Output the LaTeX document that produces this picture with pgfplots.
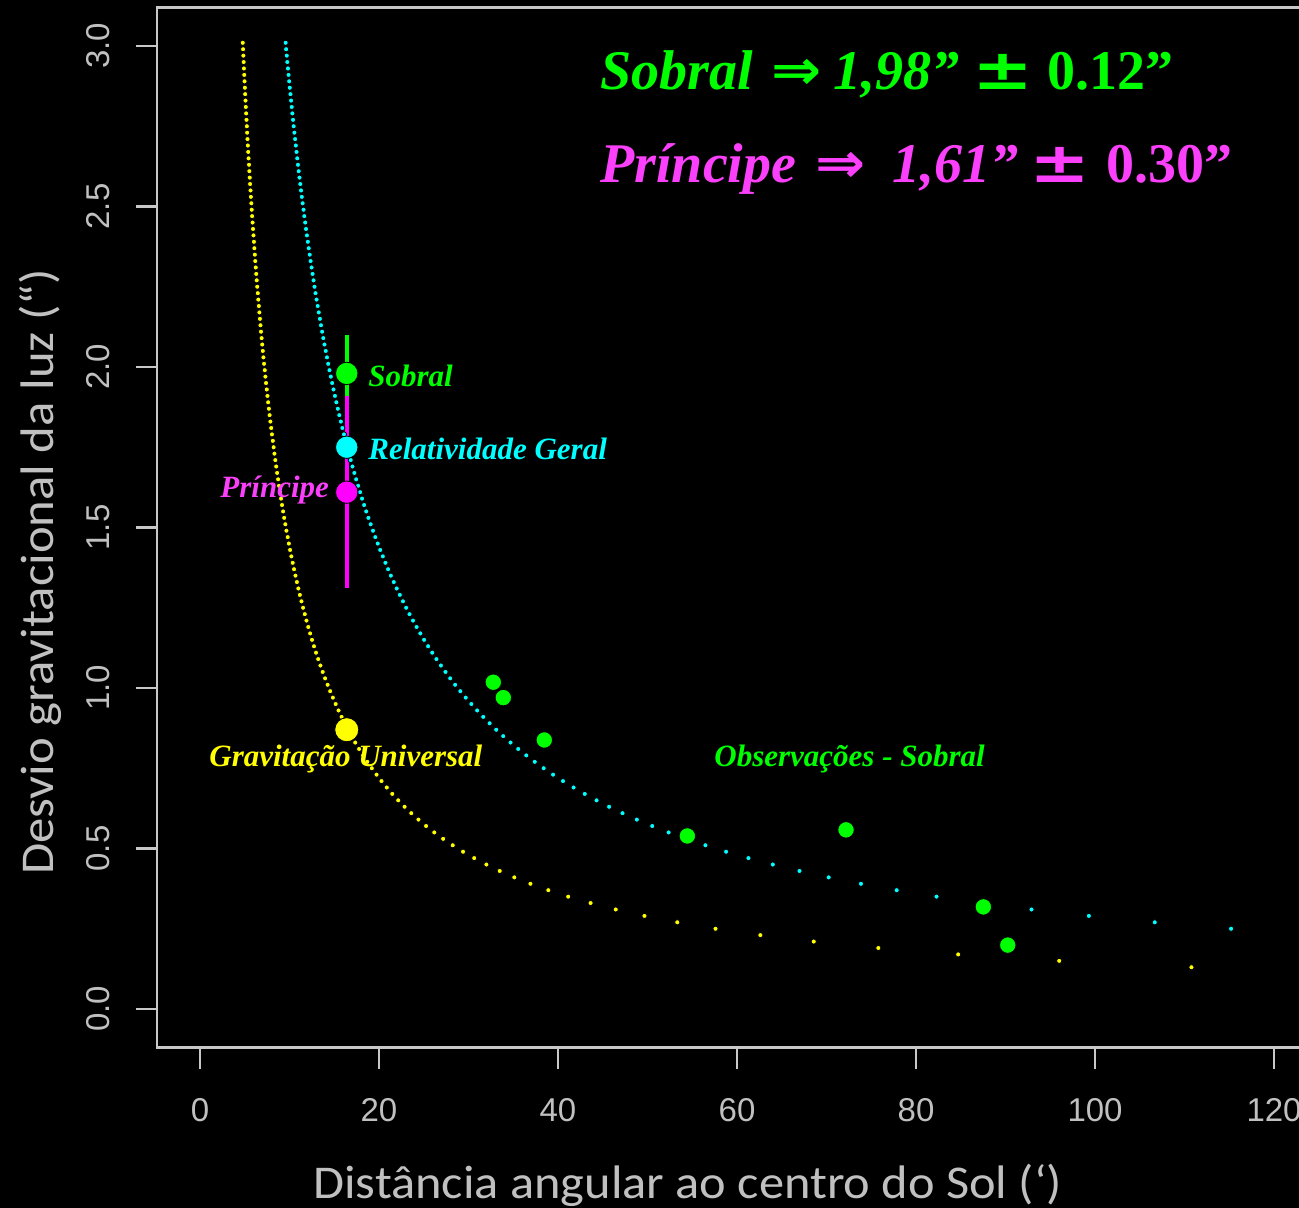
\documentclass[border=0pt]{standalone}
\usepackage{fontspec}
\setmainfont{Liberation Sans}
\newfontfamily\carlito{Carlito}
\newfontfamily\tnr{Liberation Serif}
\newfontfamily\djv{DejaVu Sans}
\usepackage{pgfplots}
\usepackage{pgfplotstable}
\pgfplotsset{compat=1.18}
\definecolor{axgray}{RGB}{200,200,200}
\definecolor{labgray}{RGB}{192,192,192}
\definecolor{cgreen}{RGB}{0,255,0}
\definecolor{ccyan}{RGB}{0,255,255}
\definecolor{cyellow}{RGB}{255,255,0}
\definecolor{cmag}{RGB}{255,0,255}
\definecolor{cmagtext}{RGB}{250,64,250}

% y (deflection), xn (Newtonian curve), xe (General Relativity curve)
\pgfplotstableread{
y xn xe
0.13 110.77 nan
0.15 96.00 nan
0.17 84.71 nan
0.19 75.79 nan
0.21 68.57 nan
0.23 62.61 nan
0.25 57.60 115.20
0.27 53.33 106.67
0.29 49.66 99.31
0.31 46.45 92.90
0.33 43.64 87.27
0.35 41.14 82.29
0.37 38.92 77.84
0.39 36.92 73.85
0.41 35.12 70.24
0.43 33.49 66.98
0.45 32.00 64.00
0.47 30.64 61.28
0.49 29.39 58.78
0.51 28.24 56.47
0.53 27.17 54.34
0.55 26.18 52.36
0.57 25.26 50.53
0.59 24.41 48.81
0.61 23.61 47.21
0.63 22.86 45.71
0.65 22.15 44.31
0.67 21.49 42.99
0.69 20.87 41.74
0.71 20.28 40.56
0.73 19.73 39.45
0.75 19.20 38.40
0.77 18.70 37.40
0.79 18.23 36.46
0.81 17.78 35.56
0.83 17.35 34.70
0.85 16.94 33.88
0.87 16.55 33.10
0.89 16.18 32.36
0.91 15.82 31.65
0.93 15.48 30.97
0.95 15.16 30.32
0.97 14.85 29.69
0.99 14.55 29.09
1.01 14.26 28.51
1.03 13.98 27.96
1.05 13.71 27.43
1.07 13.46 26.92
1.09 13.21 26.42
1.11 12.97 25.95
1.13 12.74 25.49
1.15 12.52 25.04
1.17 12.31 24.62
1.19 12.10 24.20
1.21 11.90 23.80
1.23 11.71 23.41
1.25 11.52 23.04
1.27 11.34 22.68
1.29 11.16 22.33
1.31 10.99 21.98
1.33 10.83 21.65
1.35 10.67 21.33
1.37 10.51 21.02
1.39 10.36 20.72
1.41 10.21 20.43
1.43 10.07 20.14
1.45 9.93 19.86
1.47 9.80 19.59
1.49 9.66 19.33
1.51 9.54 19.07
1.53 9.41 18.82
1.55 9.29 18.58
1.57 9.17 18.34
1.59 9.06 18.11
1.61 8.94 17.89
1.63 8.83 17.67
1.65 8.73 17.45
1.67 8.62 17.25
1.69 8.52 17.04
1.71 8.42 16.84
1.73 8.32 16.65
1.75 8.23 16.46
1.77 8.14 16.27
1.79 8.04 16.09
1.81 7.96 15.91
1.83 7.87 15.74
1.85 7.78 15.57
1.87 7.70 15.40
1.89 7.62 15.24
1.91 7.54 15.08
1.93 7.46 14.92
1.95 7.38 14.77
1.97 7.31 14.62
1.99 7.24 14.47
2.01 7.16 14.33
2.03 7.09 14.19
2.05 7.02 14.05
2.07 6.96 13.91
2.09 6.89 13.78
2.11 6.82 13.65
2.13 6.76 13.52
2.15 6.70 13.40
2.17 6.64 13.27
2.19 6.58 13.15
2.21 6.52 13.03
2.23 6.46 12.91
2.25 6.40 12.80
2.27 6.34 12.69
2.29 6.29 12.58
2.31 6.23 12.47
2.33 6.18 12.36
2.35 6.13 12.26
2.37 6.08 12.15
2.39 6.03 12.05
2.41 5.98 11.95
2.43 5.93 11.85
2.45 5.88 11.76
2.47 5.83 11.66
2.49 5.78 11.57
2.51 5.74 11.47
2.53 5.69 11.38
2.55 5.65 11.29
2.57 5.60 11.21
2.59 5.56 11.12
2.61 5.52 11.03
2.63 5.48 10.95
2.65 5.43 10.87
2.67 5.39 10.79
2.69 5.35 10.71
2.71 5.31 10.63
2.73 5.27 10.55
2.75 5.24 10.47
2.77 5.20 10.40
2.79 5.16 10.32
2.81 5.12 10.25
2.83 5.09 10.18
2.85 5.05 10.11
2.87 5.02 10.03
2.89 4.98 9.97
2.91 4.95 9.90
2.93 4.91 9.83
2.95 4.88 9.76
2.97 4.85 9.70
2.99 4.82 9.63
3.01 4.78 9.57
}\curves

\newcommand{\arrsym}{{\djv\bfseries\upshape\scalebox{1.07}[1]{⇒}}}
\newcommand{\plmn}{{\djv\bfseries\upshape\scalebox{1.3}[1]{±}}}

\begin{document}
\begin{tikzpicture}
\fill[black] (0,0) rectangle (649.5pt,604pt);
\useasboundingbox (0,0) rectangle (649.5pt,604pt);
\clip (0,0) rectangle (649.5pt,604pt);
\begin{axis}[
  at={(78.5pt,80.25pt)}, anchor=south west,
  scale only axis, width=580pt, height=520pt,
  xmin=-4.8, xmax=124.8, ymin=-0.12, ymax=3.12,
  axis line style={draw=axgray, line width=1.25pt},
  xtick={0,20,40,60,80,100,120},
  xticklabels={0,20,40,60,80,100,120},
  ytick={0,0.5,1,1.5,2,2.5,3},
  yticklabels={0.0,0.5,1.0,1.5,2.0,2.5,3.0},
  tick align=outside, xtick pos=bottom, ytick pos=left,
  major tick length=10.5pt,
  tick style={draw=axgray, line width=1.25pt},
  ticklabel style={font=\fontsize{16.5}{18}\selectfont, text=labgray},
  yticklabel style={rotate=90, anchor=south},
  xticklabel shift=11.5pt,
  yticklabel shift=9.5pt,
  /pgf/number format/assume math mode=true,
  clip=true,
]
\addplot[only marks, mark=*, mark size=1.3pt, mark options={draw=none, fill=cyellow}] table[x=xn, y=y] {\curves};
\addplot[only marks, mark=*, mark size=1.3pt, mark options={draw=none, fill=ccyan}] table[x=xe, y=y] {\curves};
% Sobral observations
\addplot[only marks, mark=*, mark size=4.1pt, mark options={draw=none, fill=cgreen}] coordinates {
(32.77,1.018) (33.89,0.970) (38.47,0.838) (54.45,0.539) (72.18,0.558) (87.52,0.318) (90.25,0.199)};
% predictions
\addplot[only marks, mark=*, mark size=5.6pt, mark options={draw=none, fill=ccyan}] coordinates {(16.4,1.75)};
\addplot[only marks, mark=*, mark size=6pt, mark options={draw=none, fill=cyellow}] coordinates {(16.4,0.87)};
% error bars
\addplot[cgreen, line width=1.75pt] coordinates {(16.4,2.10) (16.4,1.86)};
\addplot[cmag, line width=1.75pt] coordinates {(16.4,1.91) (16.4,1.31)};
\addplot[only marks, mark=*, mark size=5.6pt, mark options={draw=none, fill=cgreen}] coordinates {(16.4,1.98)};
\addplot[only marks, mark=*, mark size=5.6pt, mark options={draw=none, fill=cmag}] coordinates {(16.4,1.61)};
\end{axis}
% axis titles
\node[anchor=base west, inner sep=0, text=labgray, font=\carlito\fontsize{23.5}{26}\selectfont] at (156.5pt,5pt) {\scalebox{1.072}[1]{Distância angular ao centro do Sol (‘)}};
\node[anchor=base west, inner sep=0, rotate=90, text=labgray, font=\carlito\fontsize{23.5}{26}\selectfont] at (26.5pt,166.5pt) {\scalebox{1.08}[1]{Desvio gravitacional da luz (“)}};
% big annotations
\node[anchor=base west, inner sep=0, text=cgreen, font=\tnr\bfseries\itshape\fontsize{28}{30}\selectfont] at (300pt,559.35pt) {Sobral\hspace{2.5pt} \arrsym\hspace{-1.5pt} 1,98”\hspace{-0.5pt} \plmn\hspace{0pt} {\upshape 0.12”}};
\node[anchor=base west, inner sep=0, text=cmagtext, font=\tnr\bfseries\itshape\fontsize{28}{30}\selectfont] at (300pt,512.5pt) {Príncipe\hspace{2.5pt} \arrsym\hspace{6.5pt} 1,61”\hspace{-1.5pt} \plmn\hspace{1pt} {\upshape 0.30”}};
% small labels
\node[anchor=base west, inner sep=0, text=cgreen, font=\tnr\bfseries\itshape\fontsize{15.5}{17}\selectfont] at (184pt,410.65pt) {Sobral};
\node[anchor=base west, inner sep=0, text=ccyan, font=\tnr\bfseries\itshape\fontsize{15.5}{17}\selectfont] at (184pt,374pt) {Relatividade Geral};
\node[anchor=base west, inner sep=0, text=cmagtext, font=\tnr\bfseries\itshape\fontsize{15.5}{17}\selectfont] at (110pt,355pt) {Príncipe};
\node[anchor=base west, inner sep=0, text=cyellow, font=\tnr\bfseries\itshape\fontsize{15.5}{17}\selectfont] at (104.5pt,220.5pt) {Gravitação Universal};
\node[anchor=base west, inner sep=0, text=cgreen, font=\tnr\bfseries\itshape\fontsize{15.5}{17}\selectfont] at (357pt,220.65pt) {Observações - Sobral};
\end{tikzpicture}
\end{document}
